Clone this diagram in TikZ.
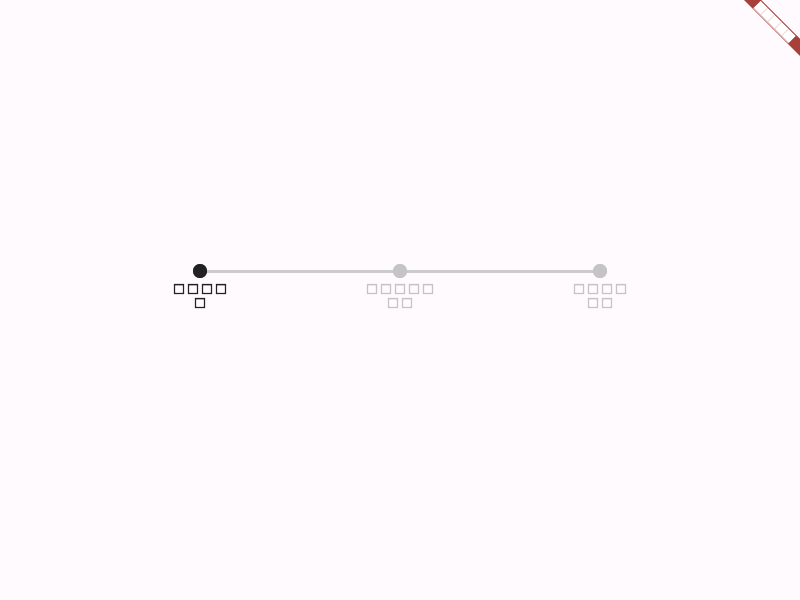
\documentclass[tikz,border=0pt]{standalone}
\usepackage{fontspec}
\newfontfamily\symfont[FakeBold=4.5]{DejaVu Sans}
\definecolor{bg}{HTML}{FFFAFD}
\definecolor{active}{HTML}{222222}
\definecolor{idle}{HTML}{C4C4C4}
\definecolor{track}{HTML}{CCCCCC}
\definecolor{banner}{HTML}{A8403A}
\definecolor{bannerline}{HTML}{E8C8C8}
\newcommand\tofu{\makebox[10.5pt]{□}}
\begin{document}
\begin{tikzpicture}[x=0.75pt,y=-0.75pt,
  dot/.style={circle,inner sep=0pt,minimum size=10.5pt},
  steplabel/.style={font=\symfont\fontsize{9.5pt}{10.5pt}\selectfont,align=center,inner sep=0pt,anchor=north}]
\fill[bg] (0,0) rectangle (800,600);
\useasboundingbox (0,0) rectangle (800,600);
% track
\node[dot,fill=active] (s1) at (200,271) {};
\node[dot,fill=idle] (s2) at (400,271) {};
\node[dot,fill=idle] (s3) at (600,271) {};
\draw[track,line width=2.25pt] (s1) -- (s2);
\draw[track,line width=2.25pt] (s2) -- (s3);
\node[dot,fill=active] at (s1) {};
\node[dot,fill=idle] at (s2) {};
\node[dot,fill=idle] at (s3) {};
% labels
\node[steplabel,text=active] (l1) at (200,284) {\tofu\tofu\tofu\tofu\\\tofu};
\node[steplabel,text=idle] (l2) at (400,284) {\tofu\tofu\tofu\tofu\tofu\\\tofu\tofu};
\node[steplabel,text=idle] (l3) at (600,284) {\tofu\tofu\tofu\tofu\\\tofu\tofu};
% debug banner
\begin{scope}
\clip (0,0) rectangle (800,600);
\fill[banner] (744,0) -- (761,0) -- (800,39) -- (800,56) -- cycle;
\fill[white] (760.5,1) -- (753.5,8) -- (788.5,43) -- (795.5,36) -- cycle;
\foreach \t in {1,2,3,4}{
  \draw[bannerline,line width=0.4pt] ({760.5+7*\t},{1+7*\t}) -- ({753.5+7*\t},{8+7*\t});
}
\draw[bannerline,line width=0.6pt] (753.5,8) -- (788.5,43);
\end{scope}
\end{tikzpicture}
\end{document}
